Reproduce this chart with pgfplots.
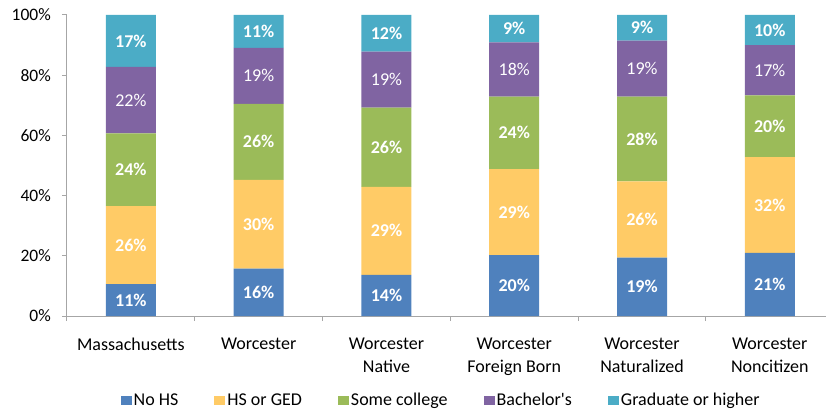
\documentclass[border=0pt]{standalone}
\usepackage{fontspec}
\setmainfont{Carlito}
\usepackage{pgfplots}
\pgfplotsset{compat=1.18}
\usepackage{pgfplotstable}
\definecolor{cNo}{HTML}{4F81BD}
\definecolor{cHS}{HTML}{FFCB66}
\definecolor{cSC}{HTML}{9BBB59}
\definecolor{cBA}{HTML}{8064A2}
\definecolor{cGR}{HTML}{4BACC6}
\definecolor{cAx}{HTML}{A6A6A6}

\pgfplotstableread{
x y l
0 10.6 11
1 15.7 16
2 13.7 14
3 20.2 20
4 19.4 19
5 21.0 21
}\nohs
\pgfplotstableread{
x y l
0 25.9 26
1 29.5 30
2 29.2 29
3 28.6 29
4 25.3 26
5 31.8 32
}\hsged
\pgfplotstableread{
x y l
0 24.2 24
1 25.3 26
2 26.3 26
3 24.1 24
4 28.2 28
5 20.5 20
}\somecol
\pgfplotstableread{
x y l
0 22.1 22
1 18.6 19
2 18.6 19
3 18.0 18
4 18.6 19
5 16.7 17
}\bach
\pgfplotstableread{
x y l
0 17.2 17
1 10.9 11
2 12.2 12
3 9.1 9
4 8.5 9
5 10.0 10
}\grad

\pgfplotsset{
  lbl/.style={
    nodes near coords={\pgfplotspointmeta\%},
    point meta=explicit symbolic,
    every node near coord/.style={anchor=center, inner sep=0pt,
      font=\fontsize{18}{20}\selectfont#1, text=white}
  },
  lbl/.default=\bfseries
}

\begin{document}
\fontsize{18}{20}\selectfont
\begin{tikzpicture}
\useasboundingbox (0,0) rectangle (826pt,412pt);
\begin{axis}[
  at={(67pt,96pt)}, anchor=south west,
  scale only axis, width=759pt, height=301pt,
  ybar stacked, bar width=50pt,
  xmin=-0.5, xmax=5.44, ymin=0, ymax=100,
  axis x line*=bottom, axis y line*=left,
  axis line style={draw=cAx, line width=1pt},
  tick align=outside,
  major tick length=5pt, minor tick length=5pt,
  ytick={0,20,...,100},
  yticklabel={\pgfmathprintnumber{\tick}\%},
  yticklabel style={xshift=-5pt, font=\fontsize{17.5}{20}\selectfont},
  ytick style={draw=cAx, line width=1pt},
  xtick={0,...,5},
  major x tick style={draw=none},
  minor xtick={-0.5,0.5,...,5.5},
  minor x tick style={draw=cAx, line width=1pt},
  xticklabels={Massachusetts, Worcester, Worcester\\Native, Worcester\\Foreign Born, Worcester\\Naturalized, Worcester\\Noncitizen},
  xticklabel style={align=center, yshift=-11pt, font=\fontsize{18}{23}\selectfont},
  /pgf/number format/assume math mode=true,
  legend columns=5,
  legend image code/.code={\fill[#1] (0pt,-4.5pt) rectangle (11pt,4.5pt);},
  legend style={at={(axis description cs:0.493,-0.282)}, anchor=center,
    draw=none, fill=none, font=\fontsize{18}{20}\selectfont,
    nodes={inner sep=2pt},
    /tikz/every even column/.append style={column sep=34pt}},
]
\addplot[fill=cNo, draw=none, lbl] table[x=x, y=y, meta=l]{\nohs};
\addlegendentry{No HS}
\addplot[fill=cHS, draw=none, lbl] table[x=x, y=y, meta=l]{\hsged};
\addlegendentry{HS or GED}
\addplot[fill=cSC, draw=none, lbl] table[x=x, y=y, meta=l]{\somecol};
\addlegendentry{Some college}
\addplot[fill=cBA, draw=none, lbl=\mdseries] table[x=x, y=y, meta=l]{\bach};
\addlegendentry{Bachelor\textquotesingle s}
\addplot[fill=cGR, draw=none, lbl] table[x=x, y=y, meta=l]{\grad};
\addlegendentry{Graduate or higher}
\end{axis}
\end{tikzpicture}
\end{document}
